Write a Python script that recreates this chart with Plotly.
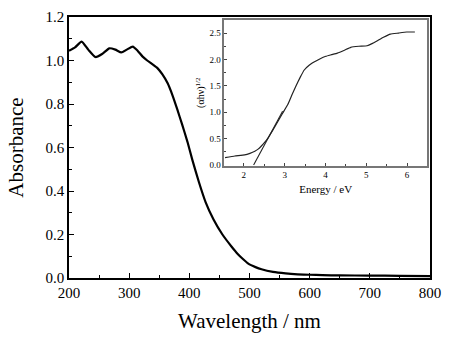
import plotly.graph_objects as go

# UV-Vis absorbance spectrum
wavelength = [200, 210, 221, 232, 244, 255, 267, 277, 287, 296, 306, 314, 322, 330, 339, 347,
              355, 364, 372, 380, 388, 397, 405, 416, 427, 440, 455, 470, 480, 490, 498, 510,
              520, 539, 560, 580, 600, 621, 650, 700, 750, 800]
absorbance = [1.045, 1.06, 1.087, 1.05, 1.016, 1.03, 1.056, 1.05, 1.037, 1.05, 1.064, 1.045, 1.019,
              1.0, 0.982, 0.965, 0.937, 0.895, 0.84, 0.775, 0.706, 0.625, 0.543, 0.44, 0.349,
              0.27, 0.20, 0.145, 0.112, 0.085, 0.066, 0.05, 0.04, 0.028, 0.021, 0.017, 0.015,
              0.013, 0.012, 0.011, 0.010, 0.009]

# Tauc plot (inset)
energy = [1.54, 1.78, 2.02, 2.15, 2.27, 2.35, 2.43, 2.51, 2.59, 2.71, 2.83, 2.95, 3.08, 3.18,
          3.28, 3.38, 3.48, 3.60, 3.72, 3.86, 4.01, 4.15, 4.29, 4.45, 4.62, 4.82, 5.02, 5.14,
          5.26, 5.42, 5.59, 5.79, 5.99, 6.19]
tauc = [0.14, 0.17, 0.19, 0.22, 0.26, 0.30, 0.36, 0.43, 0.51, 0.66, 0.82, 0.98, 1.15, 1.33,
        1.50, 1.66, 1.80, 1.89, 1.95, 2.01, 2.06, 2.09, 2.12, 2.17, 2.23, 2.25, 2.26, 2.30,
        2.35, 2.42, 2.48, 2.50, 2.52, 2.52]

# Linear extrapolation to the band gap
tangent_energy = [2.24, 2.95]
tangent_value = [0.0, 1.02]

FONT = "Liberation Serif"

fig = go.Figure()
fig.add_trace(go.Scatter(x=wavelength, y=absorbance, mode="lines",
                         line=dict(color="black", width=2.2, shape="spline", smoothing=0.5),
                         xaxis="x", yaxis="y", showlegend=False))
fig.add_trace(go.Scatter(x=energy, y=tauc, mode="lines",
                         line=dict(color="#222", width=1.2, shape="spline", smoothing=0.3),
                         xaxis="x2", yaxis="y2", showlegend=False))
fig.add_trace(go.Scatter(x=tangent_energy, y=tangent_value, mode="lines",
                         line=dict(color="#222", width=1.1),
                         xaxis="x2", yaxis="y2", showlegend=False))

axis_common = dict(showgrid=False, zeroline=False, ticks="inside", linecolor="black",
                   tickcolor="black", showline=True, mirror=True)

fig.update_layout(
    width=450, height=345,
    margin=dict(l=69, r=16, t=9, b=67),
    paper_bgcolor="white", plot_bgcolor="white",
    font=dict(family=FONT, color="black"),
    xaxis=dict(range=[200, 800], dtick=100, tickfont=dict(size=15, family=FONT),
               ticklen=5, linewidth=1.5, tickwidth=1.2,
               minor=dict(dtick=50, ticks="inside", ticklen=3, tickcolor="black"),
               title=dict(text="Wavelength / nm", font=dict(size=21, family=FONT), standoff=14),
               **axis_common),
    yaxis=dict(range=[0, 1.2], dtick=0.2, tickformat=".1f", tickfont=dict(size=15, family=FONT),
               ticklen=5, linewidth=1.5, tickwidth=1.2,
               minor=dict(dtick=0.1, ticks="inside", ticklen=3, tickcolor="black"),
               title=dict(text="Absorbance", font=dict(size=21, family=FONT), standoff=16),
               **axis_common),
    xaxis2=dict(domain=[0.430, 0.992], anchor="y2", range=[1.52, 6.49], dtick=1,
                tickfont=dict(size=9, family=FONT), ticklen=3, linewidth=1.5, tickwidth=0.8,
                minor=dict(dtick=0.5, ticks="inside", ticklen=2, tickcolor="#444"),
                title=dict(text="Energy / eV", font=dict(size=11, family=FONT), standoff=6),
                showgrid=False, zeroline=False, ticks="inside", linecolor="#777",
                tickcolor="#444", showline=True, mirror=True),
    yaxis2=dict(domain=[0.431, 0.989], anchor="x2", range=[-0.01, 2.75], dtick=0.5,
                tickformat=".1f", tickfont=dict(size=9, family=FONT), ticklen=3,
                linewidth=1.5, tickwidth=0.8,
                minor=dict(dtick=0.25, ticks="inside", ticklen=2, tickcolor="#444"),
                title=dict(text="(αhν)<sup>1/2</sup>", font=dict(size=10, family=FONT), standoff=3),
                showgrid=False, zeroline=False, ticks="inside", linecolor="#777",
                tickcolor="#444", showline=True, mirror=True),
)

fig.write_html("out.html")
